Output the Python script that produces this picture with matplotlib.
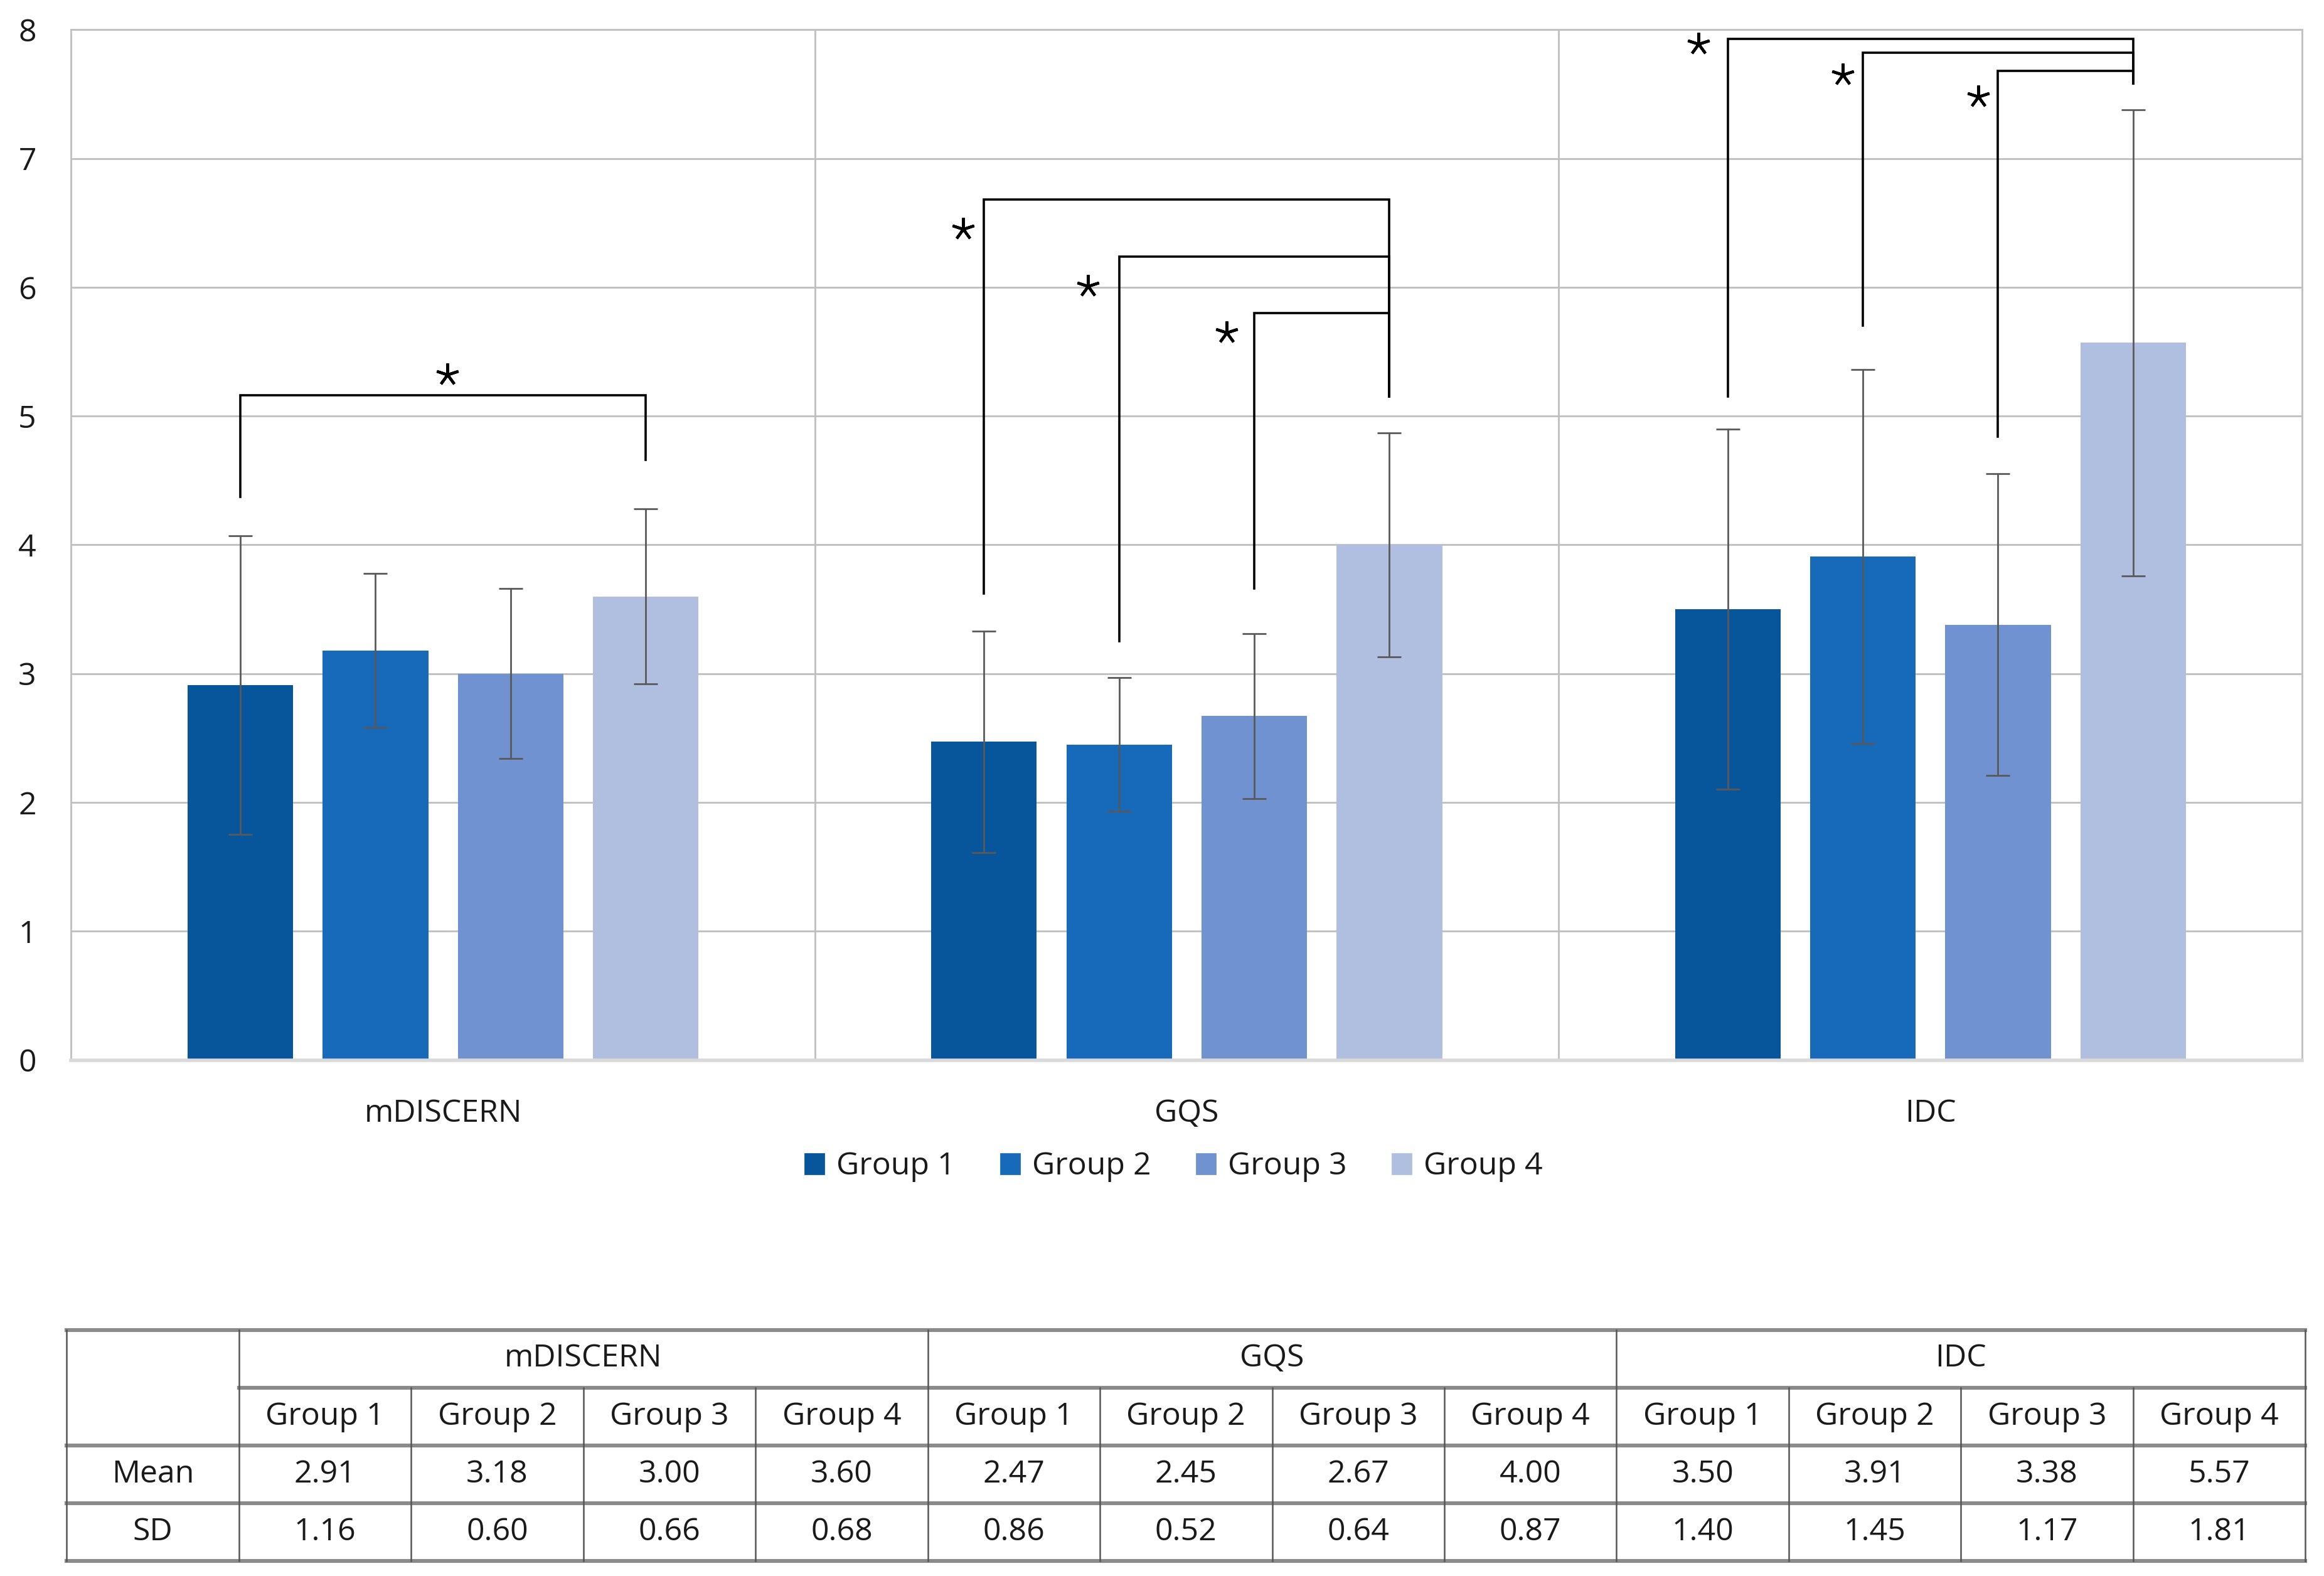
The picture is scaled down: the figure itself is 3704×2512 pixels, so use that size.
import numpy as np
import matplotlib.pyplot as plt
from matplotlib.patches import Patch

plt.rcParams['font.family'] = ['Open Sans', 'DejaVu Sans']
plt.rcParams['text.color'] = '#1a1a1a'
plt.rcParams['xtick.color'] = '#1a1a1a'
plt.rcParams['ytick.color'] = '#1a1a1a'

scales = ['mDISCERN', 'GQS', 'IDC']
groups = ['Group 1', 'Group 2', 'Group 3', 'Group 4']
means = [[2.91, 3.18, 3.00, 3.60],
         [2.47, 2.45, 2.67, 4.00],
         [3.50, 3.91, 3.38, 5.57]]
sds = [[1.16, 0.60, 0.66, 0.68],
       [0.86, 0.52, 0.64, 0.87],
       [1.40, 1.45, 1.17, 1.81]]
colors = ['#07569C', '#176AB9', '#7192D0', '#B0BEE0']

# significance brackets: (scale, left group, right group, top, left end, right end)
brackets = [(0, 0, 3, 5.16, 4.37, 4.66),
            (1, 0, 3, 6.68, 3.62, 5.15),
            (1, 1, 3, 6.24, 3.25, 5.15),
            (1, 2, 3, 5.80, 3.66, 5.15),
            (2, 0, 3, 7.93, 5.15, 7.58),
            (2, 1, 3, 7.82, 5.70, 7.58),
            (2, 2, 3, 7.68, 4.84, 7.58)]
# star positions (x, y) in data coordinates
star_x = [0.006, 0.699, 0.867, 1.054, 1.688, 1.882, 2.064]
star_y = [5.32, 6.45, 6.01, 5.65, 7.89, 7.65, 7.48]

step = 0.1817
width = 0.142
fs = 18

fig = plt.figure(figsize=(18.525, 12.56), dpi=200)
ax = fig.add_axes([0.0306, 0.3274, 0.9598, 0.6538])

cats = np.arange(len(scales))
for g in range(len(groups)):
    x = cats + (g - 1.5) * step
    m = [means[c][g] for c in cats]
    s = [sds[c][g] for c in cats]
    ax.bar(x, m, width, color=colors[g], label=groups[g], zorder=2)
    ax.errorbar(x, m, yerr=s, fmt='none', ecolor='#595959', elinewidth=1.0,
                capsize=7, capthick=1.0, zorder=3)

for c, gl, gr, top, yl, yr in brackets:
    xl = c + (gl - 1.5) * step
    xr = c + (gr - 1.5) * step
    ax.plot([xl, xl, xr, xr], [yl, top, top, yr], color='black', lw=1.3,
            zorder=4, solid_joinstyle='miter')
ax.plot(star_x, star_y, ls='none', marker=(5, 2, 0), markersize=13,
        mew=1.6, color='black', zorder=5)

ax.set_xlim(-0.5, 2.5)
ax.set_ylim(0, 8)
ax.set_yticks(range(9))
ax.set_xticks(cats)
ax.set_xticklabels(scales)
ax.tick_params(axis='y', length=0, pad=20, labelsize=fs)
ax.tick_params(axis='x', length=0, pad=22, labelsize=fs)
ax.yaxis.grid(True, color='#BFBFBF', lw=1.0)
ax.set_axisbelow(True)
for xv in [0.5, 1.5]:
    ax.axvline(xv, color='#BFBFBF', lw=1.0, zorder=0)
for side in ['left', 'top', 'right']:
    ax.spines[side].set_color('#BFBFBF')
    ax.spines[side].set_linewidth(1.0)
ax.spines['bottom'].set_color('#D9D9D9')
ax.spines['bottom'].set_linewidth(2.0)

handles = [Patch(color=colors[g], label=groups[g]) for g in range(len(groups))]
fig.legend(handles=handles, loc='center', bbox_to_anchor=(0.505, 0.2597),
           ncol=4, frameon=False, handlelength=0.6, handleheight=0.6,
           handletextpad=0.4, columnspacing=1.45, fontsize=fs)

# table below the chart
tab = fig.add_axes([0.0287, 0.0094, 0.9630, 0.1468])
tab.set_xlim(0, 13)
tab.set_ylim(4, 0)
tab.axis('off')
hc = '#8A8A8A'
vc = '#555555'
tab.plot([0, 13], [0, 0], color=hc, lw=2.2, clip_on=False)
tab.plot([1, 13], [1, 1], color=hc, lw=2.2, clip_on=False)
for yv in [2, 3, 4]:
    tab.plot([0, 13], [yv, yv], color=hc, lw=2.2, clip_on=False)
for xv in [0, 1, 5, 9, 13]:
    tab.plot([xv, xv], [0, 4], color=vc, lw=0.9, clip_on=False)
for xv in [2, 3, 4, 6, 7, 8, 10, 11, 12]:
    tab.plot([xv, xv], [1, 4], color=vc, lw=0.9, clip_on=False)

for c, name in enumerate(scales):
    tab.text(1 + 4 * c + 2, 0.5, name, ha='center', va='center', fontsize=fs)
    for g in range(len(groups)):
        xc = 1 + 4 * c + g + 0.5
        tab.text(xc, 1.5, groups[g], ha='center', va='center', fontsize=fs)
        tab.text(xc, 2.5, '%.2f' % means[c][g], ha='center', va='center', fontsize=fs)
        tab.text(xc, 3.5, '%.2f' % sds[c][g], ha='center', va='center', fontsize=fs)
tab.text(0.5, 2.5, 'Mean', ha='center', va='center', fontsize=fs)
tab.text(0.5, 3.5, 'SD', ha='center', va='center', fontsize=fs)

fig.savefig('out.png', dpi=200)
